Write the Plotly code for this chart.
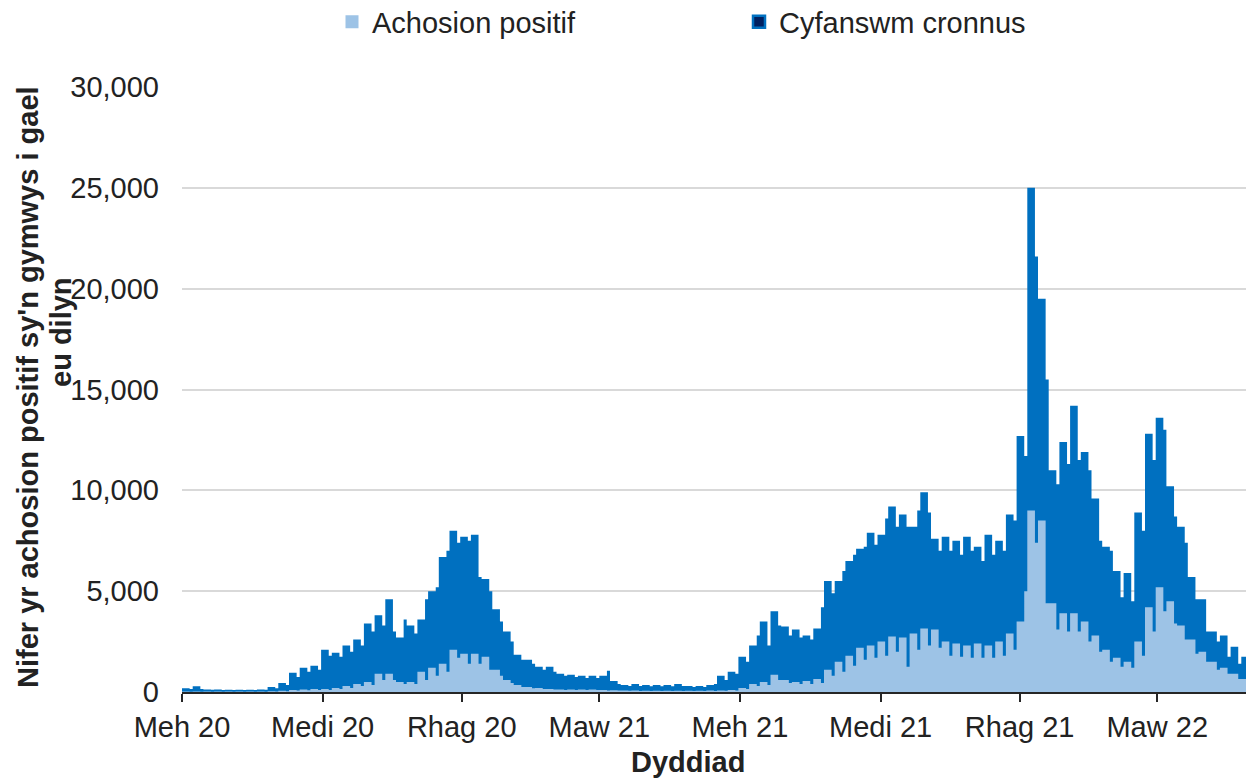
import plotly.graph_objects as go
import pandas as pd

# ---- data (weekly readings: "a" = Mon-Fri level, "b" = Sat-Sun level) ----
start_date = "2020-06-01"
end_date = "2022-05-02"
n_weeks = 100

tot_a = [180, 280, 130, 120, 110, 110, 110, 130, 250, 450,
         950, 1200, 1300, 2100, 1950, 2300, 2600, 3400, 3800, 4600,
         2700, 3300, 3600, 5000, 6700, 8000, 7700, 7800, 5600, 4100,
         3000, 1850, 1600, 1250, 1250, 900, 850, 800, 800, 800,
         550, 350, 400, 350, 350, 350, 400, 300, 300, 350,
         800, 1000, 1750, 2300, 3500, 4000, 3250, 3100, 2800, 3150,
         5500, 5500, 6500, 7100, 7900, 7800, 9200, 8800, 8200, 9900,
         7600, 7700, 7500, 7700, 7200, 7800, 7500, 8800, 12700, 25000,
         19500, 11000, 12400, 14200, 11900, 9600, 7200, 6000, 5900, 8900,
         12800, 13600, 10200, 8200, 5700, 4600, 3000, 2800, 2250, 1750]
tot_b = [150, 150, 110, 100, 100, 100, 100, 110, 180, 350,
         750, 1000, 1100, 1800, 1750, 2000, 2300, 3000, 3300, 3000,
         3600, 2900, 4600, 5200, 7000, 7400, 7500, 5700, 5000, 3500,
         2500, 1600, 1400, 1100, 1000, 800, 750, 700, 700, 1050,
         400, 300, 300, 280, 280, 280, 300, 250, 250, 400,
         600, 900, 1500, 2800, 2300, 3300, 2800, 2700, 2600, 4200,
         4900, 6000, 6800, 7200, 7300, 8600, 8200, 8200, 9000, 8900,
         7000, 7000, 6800, 7000, 6500, 6800, 7000, 8500, 11700, 21600,
         15500, 10300, 11300, 11500, 11000, 7500, 7000, 4700, 4500, 8000,
         11500, 13000, 8700, 7400, 4600, 3000, 2500, 1750, 1400, 1100]
pos_a = [20, 20, 20, 20, 20, 20, 20, 20, 40, 60,
         100, 120, 150, 150, 200, 300, 400, 500, 900, 900,
         500, 500, 1000, 1200, 1400, 2100, 1900, 1900, 1750, 1100,
         600, 350, 250, 200, 150, 120, 120, 120, 120, 100,
         90, 80, 70, 60, 60, 60, 60, 60, 60, 70,
         80, 100, 200, 400, 500, 850, 600, 500, 550, 650,
         1100, 1500, 1800, 2200, 2300, 2500, 2750, 2700, 2900, 3150,
         3100, 2500, 2400, 2300, 2400, 2300, 2500, 2900, 3500, 9000,
         8500, 4400, 3900, 3900, 3500, 2800, 2100, 1700, 1500, 2500,
         4200, 5200, 4500, 3300, 2600, 2000, 1500, 1200, 900, 650]
pos_b = [15, 15, 15, 15, 15, 15, 15, 15, 30, 40,
         70, 90, 100, 100, 150, 200, 300, 350, 600, 600,
         400, 400, 600, 800, 1000, 1700, 1400, 1400, 1100, 800,
         450, 250, 180, 150, 120, 100, 100, 100, 100, 80,
         70, 60, 50, 50, 50, 50, 50, 50, 50, 50,
         60, 80, 150, 300, 350, 600, 450, 400, 400, 450,
         800, 1000, 1300, 1600, 1700, 1800, 2000, 1250, 2100, 2300,
         2200, 1800, 1750, 1700, 1700, 1700, 1800, 2100, 5000, 7400,
         4400, 3100, 3000, 3000, 2500, 2000, 1500, 1250, 1200, 1800,
         3000, 4000, 3400, 2600, 1900, 1500, 1100, 900, 650, 450]

tick_dates = ["2020-06-01", "2020-09-01", "2020-12-01", "2021-03-01",
              "2021-06-01", "2021-09-01", "2021-12-01", "2022-03-01"]
tick_labels = ["Meh 20", "Medi 20", "Rhag 20", "Maw 21",
               "Meh 21", "Medi 21", "Rhag 21", "Maw 22"]

series_names = ["Achosion positif", "Cyfanswm cronnus"]
y_title_lines = ["Nifer yr achosion positif sy'n gymwys i gael", "eu dilyn"]
x_title = "Dyddiad"

# ---- build step series ----
weeks = pd.date_range(start_date, periods=n_weeks, freq="7D")
xs = []
for d in weeks:
    xs += [d, d + pd.Timedelta(days=5)]
xs.append(pd.Timestamp(end_date))


def interleave(a, b):
    out = []
    for i, j in zip(a, b):
        out += [i, j]
    out.append(b[-1])
    return out


tot = interleave(tot_a, tot_b)
pos = interleave(pos_a, pos_b)

DARK = "#0070C0"
LIGHT = "#9DC3E6"
NAVY = "#002060"
FONT = "Liberation Sans, Arial, sans-serif"
TXT = "#222222"

fig = go.Figure()
fig.add_trace(go.Scatter(x=xs, y=tot, mode="lines", fill="tozeroy",
                         fillcolor=DARK, line=dict(width=0, shape="hv", color=DARK),
                         name=series_names[1], showlegend=False, hoverinfo="x+y"))
fig.add_trace(go.Scatter(x=xs, y=pos, mode="lines", fill="tozeroy",
                         fillcolor=LIGHT, line=dict(width=0, shape="hv", color=LIGHT),
                         name=series_names[0], showlegend=False, hoverinfo="x+y"))
# legend entries
fig.add_trace(go.Scatter(x=[None], y=[None], mode="markers", name=series_names[0],
                         marker=dict(symbol="square", size=13, color=LIGHT,
                                     line=dict(width=0)),
                         legend="legend"))
fig.add_trace(go.Scatter(x=[None], y=[None], mode="markers", name=series_names[1],
                         marker=dict(symbol="square", size=12, color=NAVY,
                                     line=dict(width=2.5, color=DARK)),
                         legend="legend2"))

# page body has an 8px margin; figure sized so it ends at the window edge
OFF = 8
W, H = 1254 - OFF, 781 - OFF
L, R, T, B = 182 - OFF, 2, 87 - OFF, H - (692 - OFF)
pw = W - L - R
ph = H - T - B


def px_x(px):
    return (px - OFF - L) / pw


def px_y(py):
    return (H - B - (py - OFF)) / ph


fig.update_layout(
    width=W, height=H,
    margin=dict(l=L, r=R, t=T, b=B, autoexpand=False),
    paper_bgcolor="white", plot_bgcolor="white",
    font=dict(family=FONT, size=29, color=TXT),
    legend=dict(orientation="h", x=px_x(332), y=px_y(22), xanchor="left",
                yanchor="middle", bgcolor="rgba(0,0,0,0)", font=dict(size=29, color=TXT)),
    legend2=dict(orientation="h", x=px_x(739), y=px_y(22), xanchor="left",
                 yanchor="middle", bgcolor="rgba(0,0,0,0)", font=dict(size=29, color=TXT)),
    xaxis=dict(type="date", range=[start_date, end_date],
               tickvals=tick_dates, ticktext=tick_labels,
               ticks="outside", ticklen=8, tickwidth=1.5, tickcolor="#262626",
               showline=True, linecolor="#262626", linewidth=1.5,
               showgrid=False, zeroline=False,
               tickfont=dict(size=29, color=TXT)),
    yaxis=dict(range=[0, 30000], dtick=5000, tickformat=",d",
               showgrid=True, gridcolor="#D9D9D9", gridwidth=1.5,
               showline=False, zeroline=False, ticks="",
               ticklabelstandoff=22,
               tickfont=dict(size=29, color=TXT)),
    annotations=[
        dict(text="<b>" + y_title_lines[0] + "</b>", xref="paper", yref="paper",
             x=px_x(28), y=px_y(387), xanchor="center", yanchor="middle",
             textangle=-90, showarrow=False, font=dict(size=29, color=TXT)),
        dict(text="<b>" + y_title_lines[1] + "</b>", xref="paper", yref="paper",
             x=px_x(61), y=px_y(332), xanchor="center", yanchor="middle",
             textangle=-90, showarrow=False, font=dict(size=29, color=TXT)),
        dict(text="<b>" + x_title + "</b>", xref="paper", yref="paper",
             x=px_x(688), y=px_y(780), xanchor="center", yanchor="bottom",
             showarrow=False, font=dict(size=29, color=TXT)),
    ],
)

fig.write_html("out.html")
